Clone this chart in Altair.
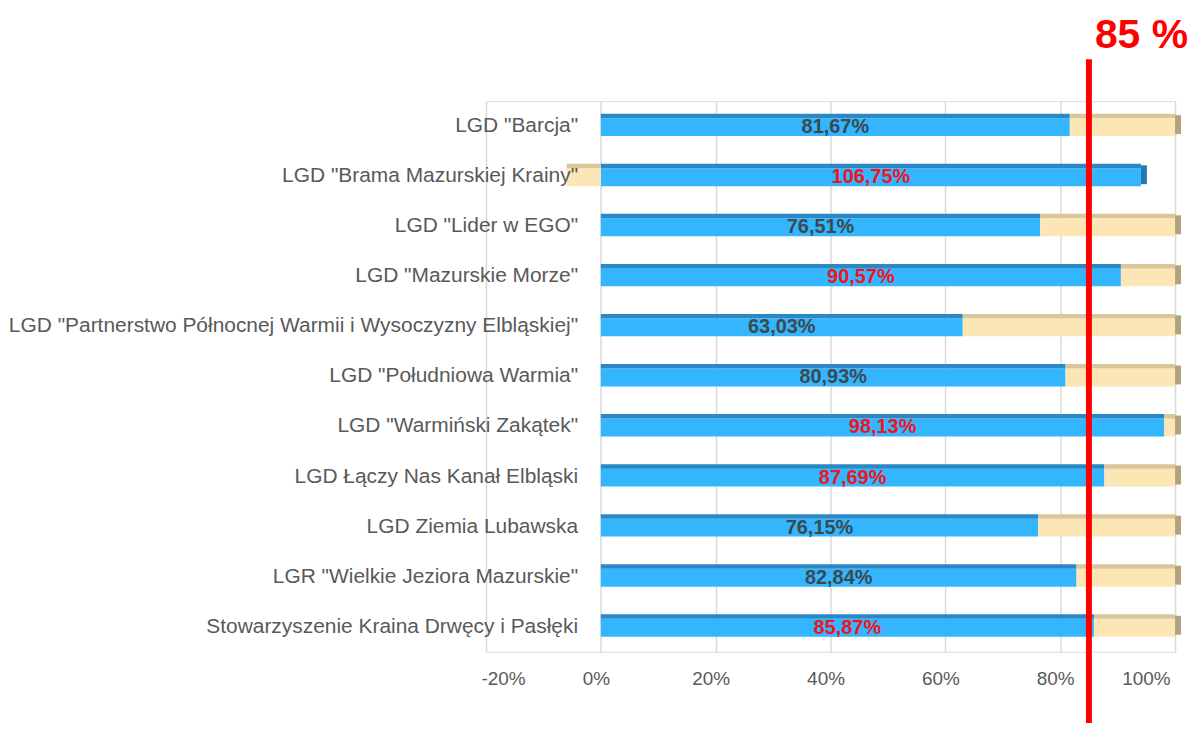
import altair as alt
import pandas as pd

names = [
    'LGD "Barcja"',
    'LGD "Brama Mazurskiej Krainy"',
    'LGD "Lider w EGO"',
    'LGD "Mazurskie Morze"',
    'LGD "Partnerstwo Północnej Warmii i Wysoczyzny Elbląskiej"',
    'LGD "Południowa Warmia"',
    'LGD "Warmiński Zakątek"',
    'LGD Łączy Nas Kanał Elbląski',
    'LGD Ziemia Lubawska',
    'LGR "Wielkie Jeziora Mazurskie"',
    'Stowarzyszenie Kraina Drwęcy i Pasłęki',
]
values = [81.67, 106.75, 76.51, 90.57, 63.03, 80.93, 98.13, 87.69, 76.15, 82.84, 85.87]
target = 85
tick_values = [-20, 0, 20, 40, 60, 80, 100]

BLUE, BLUE_TOP, BLUE_SIDE = "#33b6fd", "#2a88c6", "#2479b3"
BEIGE, BEIGE_TOP, BEIGE_SIDE = "#fde6b5", "#d9c69a", "#b3a27b"
RED, DARK, GREY = "#f0141e", "#3b4a50", "#595959"

# 100% stacked: value vs. remainder (remainder negative when value > 100)
segs, sides, labels = [], [], []
for n, v in zip(names, values):
    rest = 100 - v
    tot = v + abs(rest)
    b_end = v / tot * 100
    r_part = rest / tot * 100
    segs.append({"name": n, "seg": "value", "x0": 0, "x1": b_end})
    if rest >= 0:
        segs.append({"name": n, "seg": "rest", "x0": b_end, "x1": b_end + r_part})
        sides.append({"name": n, "seg": "rest", "xe": b_end + r_part})
    else:
        segs.append({"name": n, "seg": "rest", "x0": r_part, "x1": 0})
        sides.append({"name": n, "seg": "value", "xe": b_end})
    labels.append({"name": n, "mid": b_end / 2, "value": v,
                   "txt": f"{v:.2f}".replace(".", ",") + "%"})

seg_df = pd.DataFrame(segs)
side_df = pd.DataFrame(sides)
lab_df = pd.DataFrame(labels)

W, H = 692, 553
xscale = alt.Scale(domain=[-20, 100], nice=False, zero=False)
yscale = alt.Scale(domain=names, paddingInner=0.6, paddingOuter=0.3)

y_axis = alt.Axis(offset=-94, domain=False, ticks=False, labelPadding=2,
                  labelFontSize=21, labelColor=GREY, labelLimit=800, grid=False,
                  title=None, zindex=2)
x_axis = alt.Axis(values=tick_values, labelExpr="datum.value + '%'", domain=False,
                  ticks=False, grid=True, gridColor="#d9d9d9", gridWidth=1.5,
                  labelFontSize=19, labelColor=GREY, labelPadding=18,
                  labelOffset=-5, title=None, zindex=0)


def X(field):
    return alt.X(field, scale=xscale, axis=x_axis, title=None)


def Y():
    return alt.Y("name:N", scale=yscale, sort=names, axis=y_axis, title=None)


front = alt.Chart(seg_df).mark_bar(size=18, yOffset=1).encode(
    x=X("x0:Q"), x2="x1:Q", y=Y(),
    color=alt.Color("seg:N", scale=alt.Scale(domain=["value", "rest"], range=[BLUE, BEIGE]), legend=None),
)

top = alt.Chart(seg_df).mark_bar(size=4.5, yOffset=-10.2).encode(
    x=X("x0:Q"), x2="x1:Q", y=Y(),
    color=alt.Color("seg:N", scale=alt.Scale(domain=["value", "rest"], range=[BLUE_TOP, BEIGE_TOP]), legend=None),
)

side = alt.Chart(side_df).mark_bar(size=19, yOffset=-1.5, x2Offset=6).encode(
    x=X("xe:Q"), x2="xe:Q", y=Y(),
    color=alt.Color("seg:N", scale=alt.Scale(domain=["value", "rest"], range=[BLUE_SIDE, BEIGE_SIDE]), legend=None),
)

text = alt.Chart(lab_df).mark_text(fontSize=20, fontWeight="bold", baseline="middle",
                                   align="center", dy=1).encode(
    x=X("mid:Q"), y=Y(),
    text="txt:N",
    color=alt.condition(alt.datum.value >= target, alt.value(RED), alt.value(DARK)),
)

rule = alt.Chart(pd.DataFrame({"t": [target]})).mark_rule(color="#ff0000", strokeWidth=6).encode(
    x=X("t:Q"),
    y=alt.value(-42),
    y2=alt.value(H + 80),
)

title = alt.Chart(pd.DataFrame({"t": [target], "lbl": [f"{target} %"]})).mark_text(
    fontSize=41, fontWeight="bold", color="#ff0000", align="left",
    baseline="alphabetic", dx=6).encode(
    x=X("t:Q"),
    y=alt.value(-53),
    text="lbl:N",
)

chart = alt.layer(front, top, side, text, rule, title).resolve_scale(
    color="independent"
).properties(
    width=W, height=H,
    autosize=alt.AutoSizeParams(type="none"),
    padding={"left": 480, "top": 92, "right": 14, "bottom": 70},
    background="white",
).configure_view(stroke="transparent", strokeWidth=0, strokeOpacity=0).configure(
    font="Liberation Sans"
)

chart.save("out.html", embed_options={"renderer": "svg", "actions": False})
